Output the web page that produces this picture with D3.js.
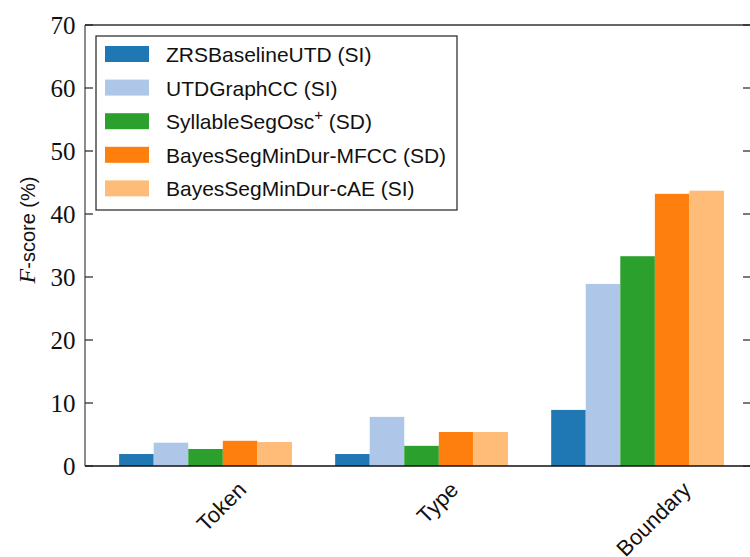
<!DOCTYPE html>
<html>
<head>
<meta charset="utf-8">
<script src="https://cdn.jsdelivr.net/npm/d3@7"></script>
<style>
  body { margin: 0; background: #fff; }
  svg { display: block; }
</style>
</head>
<body>
<div id="chart"></div>
<script>
// chart data
const categories = ["Token", "Type", "Boundary"];
const seriesNames = [
  "ZRSBaselineUTD (SI)",
  "UTDGraphCC (SI)",
  "SyllableSegOsc",
  "BayesSegMinDur-MFCC (SD)",
  "BayesSegMinDur-cAE (SI)"
];
const zrsBaselineUtd = [1.9, 1.9, 8.9];
const utdGraphCc = [3.7, 7.8, 28.9];
const syllableSegOsc = [2.7, 3.2, 33.3];
const bayesSegMfcc = [4.0, 5.4, 43.2];
const bayesSegCae = [3.8, 5.4, 43.7];
const yTicks = [0, 10, 20, 30, 40, 50, 60, 70];

const series = [zrsBaselineUtd, utdGraphCc, syllableSegOsc, bayesSegMfcc, bayesSegCae];
const colors = ["#1f77b4", "#aec7e8", "#2ca02c", "#ff7f0e", "#ffbb78"];

const W = 750, H = 557;
const plot = {left: 85, right: 751, top: 25, bottom: 466};

const svg = d3.select("#chart").append("svg")
  .attr("width", W)
  .attr("height", H);

const x = d3.scaleLinear().domain([-0.558, 2.525]).range([plot.left, plot.right]);
const y = d3.scaleLinear().domain([0, 70]).range([plot.bottom, plot.top]);

const barW = 0.8 / series.length;

// bars
series.forEach((vals, j) => {
  svg.append("g").selectAll("rect")
    .data(vals)
    .enter().append("rect")
    .attr("x", (d, i) => x(i - 0.4 + j * barW))
    .attr("width", x(barW) - x(0))
    .attr("y", d => y(d))
    .attr("height", d => y(0) - y(d))
    .attr("fill", colors[j]);
});

// spines
svg.append("line").attr("x1", plot.left).attr("x2", plot.right)
  .attr("y1", plot.top).attr("y2", plot.top)
  .attr("stroke", "#333").attr("stroke-width", 1.5);
svg.append("line").attr("x1", plot.right).attr("x2", plot.right)
  .attr("y1", plot.top).attr("y2", plot.bottom)
  .attr("stroke", "#333").attr("stroke-width", 1.5);
svg.append("line").attr("x1", plot.left).attr("x2", plot.left)
  .attr("y1", plot.top).attr("y2", plot.bottom)
  .attr("stroke", "#666").attr("stroke-width", 1.5);
svg.append("line").attr("x1", plot.left).attr("x2", plot.right)
  .attr("y1", plot.bottom).attr("y2", plot.bottom)
  .attr("stroke", "#111").attr("stroke-width", 1.5);

// y ticks, pointing inward on both sides
const yt = svg.append("g");
yTicks.forEach(t => {
  yt.append("line").attr("x1", plot.left).attr("x2", plot.left + 8)
    .attr("y1", y(t)).attr("y2", y(t)).attr("stroke", "#222").attr("stroke-width", 1.2);
  yt.append("line").attr("x1", plot.right).attr("x2", plot.right - 8)
    .attr("y1", y(t)).attr("y2", y(t)).attr("stroke", "#222").attr("stroke-width", 1.2);
  yt.append("text")
    .attr("x", 75.5)
    .attr("y", y(t))
    .attr("text-anchor", "end")
    .attr("dominant-baseline", "central")
    .style("font-family", "'Liberation Serif', 'DejaVu Serif', serif")
    .style("font-size", "25px")
    .style("fill", "#111")
    .text(t);
});

// x tick labels, rotated 45 degrees, top of each box at one line
const labelSize = 22;
categories.forEach((c, i) => {
  const t = svg.append("text")
    .attr("text-anchor", "middle")
    .attr("dominant-baseline", "central")
    .style("font-family", "'Liberation Sans', Arial, sans-serif")
    .style("font-size", labelSize + "px")
    .style("fill", "#111")
    .text(c);
  const w = t.node().getComputedTextLength();
  const half = (w + labelSize * 0.75) / (2 * Math.SQRT2);
  t.attr("transform", `translate(${x(i) + 16},${480 + half}) rotate(-45)`);
});

// y axis label
const yl = svg.append("text")
  .attr("transform", "translate(35,230) rotate(-90)")
  .attr("text-anchor", "middle")
  .style("font-size", "20px")
  .style("fill", "#111");
yl.append("tspan")
  .style("font-family", "'Liberation Serif', serif")
  .style("font-style", "italic")
  .style("font-size", "24px")
  .text("F");
yl.append("tspan")
  .style("font-family", "'Liberation Sans', Arial, sans-serif")
  .text("-score (%)");

// legend
const legend = svg.append("g");
legend.append("rect")
  .attr("x", 96).attr("y", 36).attr("width", 361).attr("height", 174)
  .attr("fill", "#fff").attr("stroke", "#333").attr("stroke-width", 1.3);
seriesNames.forEach((name, k) => {
  const cy = 54 + k * 33.6;
  legend.append("rect")
    .attr("x", 105).attr("y", cy - 8).attr("width", 44).attr("height", 16)
    .attr("fill", colors[k]);
  const t = legend.append("text")
    .attr("x", 166).attr("y", cy + 8)
    .style("font-family", "'Liberation Sans', Arial, sans-serif")
    .style("font-size", "21px")
    .style("fill", "#111")
    .text(name);
  if (k === 2) {
    t.append("tspan").attr("dy", -9).style("font-size", "15px").text("+");
    t.append("tspan").attr("dy", 9).text(" (SD)");
  }
});
</script>
</body>
</html>
